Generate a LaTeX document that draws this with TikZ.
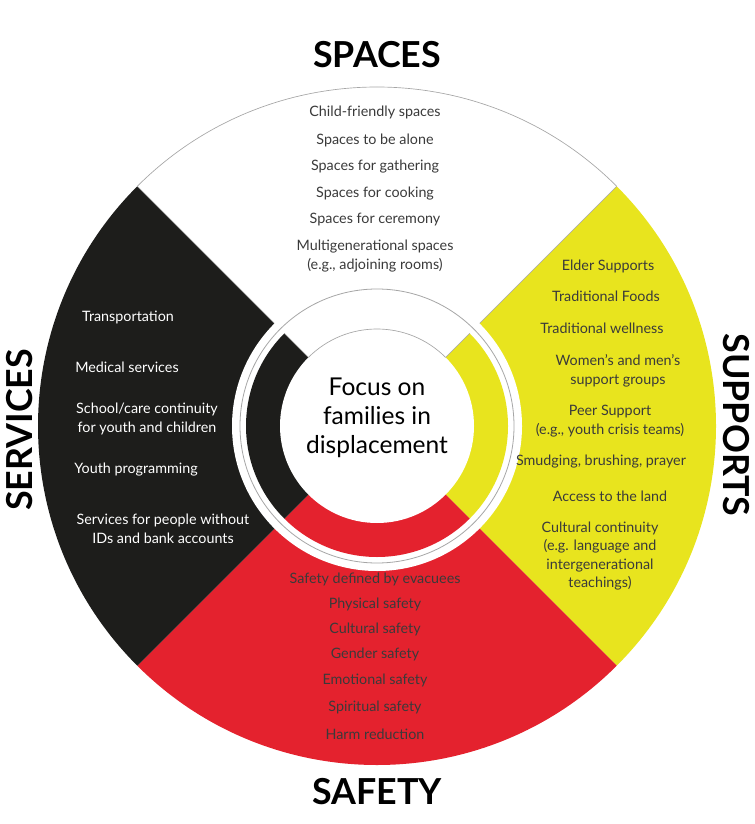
\documentclass[tikz,border=0pt]{standalone}
\usepackage{fontspec}
\setmainfont{Lato}
\usetikzlibrary{positioning}
\definecolor{wheelyellow}{HTML}{E8E41E}
\definecolor{wheelred}{HTML}{E4222E}
\definecolor{wheelblack}{HTML}{1D1D1B}
\definecolor{itemgray}{HTML}{3A3A3A}
\tikzset{
    item/.style={font=\fontsize{10.8}{14}\selectfont, align=center, inner sep=0pt},
    title/.style={font=\fontsize{27}{30}\bfseries\selectfont, inner sep=0pt},
    hub/.style={font=\fontsize{18.5}{22}\selectfont, align=center, inner sep=0pt}
}
\begin{document}
\begin{tikzpicture}[x=0.0265cm,y=-0.0265cm]
    \useasboundingbox (0,0) rectangle (754,824);
    \coordinate (c) at (377,426);
    % Quadrants
    \fill[white] (c) -- +(-45:339) arc[start angle=-45,end angle=-135,radius=339] -- cycle;
    \fill[wheelyellow] (c) -- +(45:339) arc[start angle=45,end angle=-45,radius=339] -- cycle;
    \fill[wheelred] (c) -- +(135:339) arc[start angle=135,end angle=45,radius=339] -- cycle;
    \fill[wheelblack] (c) -- +(225:339) arc[start angle=225,end angle=135,radius=339] -- cycle;
    \draw[gray!70, line width=0.5pt] (c) ++(-45:339) arc[start angle=-45,end angle=-135,radius=339];
    \draw[gray!70, line width=0.5pt] (c) -- +(-45:339) (c) -- +(-135:339);
    % Ring
    \fill[white] (c) circle[radius=145];
    \draw[gray!70, line width=0.6pt] (c) circle[radius=137];
    \fill[white] (c) -- +(-45:131) arc[start angle=-45,end angle=-135,radius=131] -- cycle;
    \fill[wheelyellow] (c) -- +(45:131) arc[start angle=45,end angle=-45,radius=131] -- cycle;
    \fill[wheelred] (c) -- +(135:131) arc[start angle=135,end angle=45,radius=131] -- cycle;
    \fill[wheelblack] (c) -- +(225:131) arc[start angle=225,end angle=135,radius=131] -- cycle;
    \draw[gray!70, line width=0.5pt] (c) +(-45:97) -- +(-45:131) (c) +(-135:97) -- +(-135:131);
    \fill[white] (c) circle[radius=97];
    \draw[gray!70, line width=0.5pt] (c) ++(-45:97) arc[start angle=-45,end angle=-135,radius=97];
    \node[hub] (focus) at (377,418) {Focus on\\families in\\displacement};

    % Titles
    \node[title] (spaces) at (377,55) {SPACES};
    \node[title] (safety) at (377,792) {SAFETY};
    \node[title, rotate=90] (services) at (20,430) {SERVICES};
    \node[title, rotate=-90] (supports) at (736,425) {SUPPORTS};

    % Spaces
    \foreach \y/\t in {112/Child-friendly spaces, 140/Spaces to be alone,
        167/Spaces for gathering, 194/Spaces for cooking, 220/Spaces for ceremony}
        \node[item, text=itemgray] at (375,\y) {\t};
    \node[item, text=itemgray] (multigen) at (375,256) {Multigenerational spaces\\(e.g., adjoining rooms)};

    % Supports
    \node[item, text=itemgray] (elder) at (608,266) {Elder Supports};
    \node[item, text=itemgray] (foods) at (606,296) {Traditional Foods};
    \node[item, text=itemgray] (wellness) at (602,328) {Traditional wellness};
    \node[item, text=itemgray] (groups) at (618,371) {Women's and men's\\support groups};
    \node[item, text=itemgray] (peer) at (610,421) {Peer Support\\(e.g., youth crisis teams)};
    \node[item, text=itemgray] (smudging) at (601,462) {Smudging, brushing, prayer};
    \node[item, text=itemgray] (land) at (610,496) {Access to the land};
    \node[item, text=itemgray] (continuity) at (600,556) {Cultural continuity\\(e.g. language and\\intergenerational\\teachings)};

    % Services
    \node[item, text=white] (transport) at (128,317) {Transportation};
    \node[item, text=white] (medical) at (127,367) {Medical services};
    \node[item, text=white] (school) at (147,419) {School/care continuity\\for youth and children};
    \node[item, text=white] (youth) at (136,470) {Youth programming};
    \node[item, text=white] (noid) at (163,529) {Services for people without\\IDs and bank accounts};

    % Safety
    \foreach \y/\t in {579/Safety defined by evacuees, 604/Physical safety,
        629/Cultural safety, 654/Gender safety, 680/Emotional safety,
        707/Spiritual safety, 734/Harm reduction}
        \node[item, text=itemgray] at (375,\y) {\t};
\end{tikzpicture}
\end{document}
